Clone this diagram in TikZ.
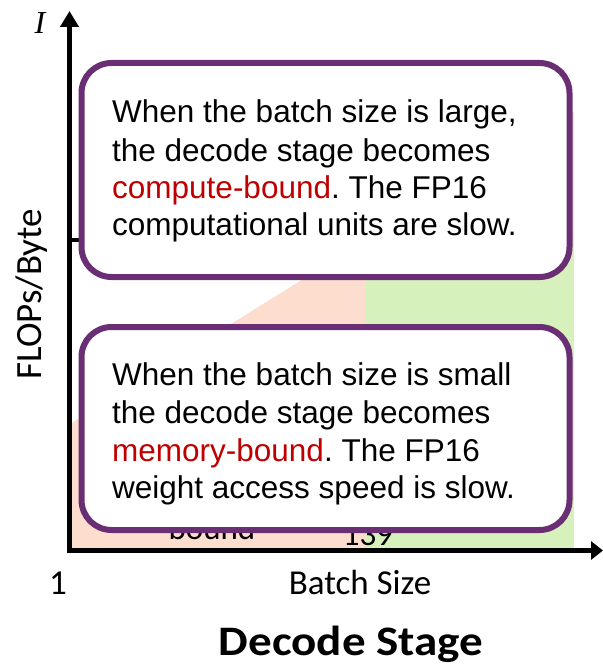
\documentclass[tikz,border=0pt]{standalone}
\usepackage{fontspec}
\setmainfont{Liberation Sans}
\newfontfamily\boxfont{Liberation Sans}
\newfontfamily\calfont{Carlito}
\newfontfamily\calwide{Carlito}[FakeStretch=1.12]
\newfontfamily\serifit{Liberation Serif}
\usetikzlibrary{arrows.meta}
\frenchspacing
\definecolor{boxpurple}{RGB}{106,46,117}
\definecolor{memfill}{RGB}{252,221,206}
\definecolor{compfill}{RGB}{215,241,188}
\definecolor{hotred}{RGB}{192,0,0}
\tikzset{
  axisline/.style={line width=5pt, -{Triangle[length=16pt,width=18pt]}},
  calloutbox/.style={draw=boxpurple, line width=6pt, fill=white, rounded corners=30pt,
     minimum width=488pt, inner sep=0pt},
  boxtext/.style={anchor=base west, inner sep=0pt, font=\boxfont\fontsize{31.5}{38}\selectfont},
  hiddentext/.style={anchor=base, inner sep=0pt, font=\calfont\fontsize{33}{40}\selectfont},
  axislabel/.style={anchor=base, inner sep=0pt, font=\calfont\fontsize{35}{42}\selectfont},
}
\begin{document}
\begin{tikzpicture}[x=1pt,y=-1pt]
\useasboundingbox (0,0) rectangle (602,666);
% regions
\fill[memfill] (70,424) -- (366,240) -- (366,548) -- (70,548) -- cycle;
\fill[compfill] (366,112) rectangle (574,548);
% partially hidden labels
\node[hiddentext] (mb) at (212,539) {bound};
\node[hiddentext] (bs) at (368,545) {139};
% axes
\coordinate (origin) at (69.5,553);
\coordinate (ytip) at (69.5,11);
\coordinate (xstart) at (67,550.5);
\coordinate (xtip) at (603,550.5);
\draw[axisline] (origin) -- (ytip);
\draw[line width=5pt, -{Triangle[length=12pt,width=18pt]}] (xstart) -- (xtip);
\coordinate (tickL) at (69.5,240);
\coordinate (tickR) at (79,240);
\draw[line width=4pt] (tickL) -- (tickR);
% callout boxes
\node[calloutbox, minimum height=214pt] (b1) at (325.5,170) {};
\node[calloutbox, minimum height=203pt] (b2) at (325.5,428.5) {};
% box texts
\node[boxtext] (t11) at (112,123) {When the batch size is large,};
\node[boxtext] (t12) at (112,161) {the decode stage becomes};
\node[boxtext] (t13) at (112,198) {\textcolor{hotred}{compute-bound}. The FP16};
\node[boxtext] (t14) at (112,235) {computational units are slow.};
\node[boxtext] (t21) at (112,385) {When the batch size is small};
\node[boxtext] (t22) at (112,423) {the decode stage becomes};
\node[boxtext] (t23) at (112,461) {\textcolor{hotred}{memory-bound}. The FP16};
\node[boxtext] (t24) at (112,498) {weight access speed is slow.};
% axis labels
\node[anchor=center, inner sep=0pt, font=\serifit\itshape\fontsize{32}{36}\selectfont] (ilab) at (40,23) {I};
\node[axislabel, rotate=90, font=\calfont\fontsize{37}{44}\selectfont] (ylab) at (41,294) {FLOPs/Byte};
\node[axislabel] (one) at (58,594) {1};
\node[axislabel] (xlab) at (360,594) {Batch Size};
\node[anchor=base, inner sep=0pt, font=\calwide\bfseries\fontsize{42}{48}\selectfont] (title) at (351,655) {Decode Stage};
\end{tikzpicture}
\end{document}
